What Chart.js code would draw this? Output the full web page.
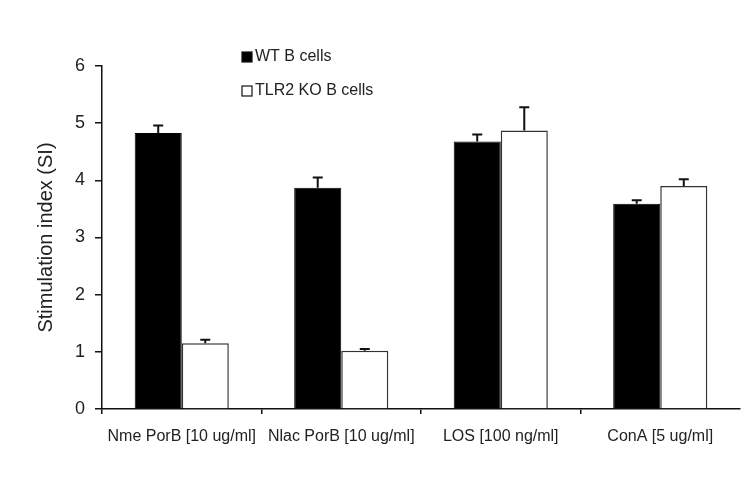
<!DOCTYPE html>
<html>
<head>
<meta charset="utf-8">
<script src="https://cdn.jsdelivr.net/npm/chart.js@4.4.0/dist/chart.umd.min.js"></script>
<style>
  html, body { margin: 0; padding: 0; background: #fff; }
  #wrap { width: 750px; height: 486px; }
</style>
</head>
<body>
<div id="wrap"><canvas id="c" width="750" height="486"></canvas></div>
<script>
const categories = ["Nme PorB [10 ug/ml]", "Nlac PorB [10 ug/ml]", "LOS [100 ng/ml]", "ConA [5 ug/ml]"];
const seriesNames = ["WT B cells", "TLR2 KO B cells"];
const wtValues = [4.83, 3.87, 4.68, 3.59];
const wtErrors = [0.13, 0.18, 0.12, 0.06];
const koValues = [1.15, 1.02, 4.87, 3.90];
const koErrors = [0.06, 0.03, 0.41, 0.12];
const yTicks = [0, 1, 2, 3, 4, 5, 6];

const FONT = "'Liberation Sans', Arial, sans-serif";

const errorBarPlugin = {
  id: 'errorBars',
  afterDatasetsDraw(chart) {
    const ctx = chart.ctx;
    const yScale = chart.scales.y;
    chart.data.datasets.forEach((ds, di) => {
      const meta = chart.getDatasetMeta(di);
      meta.data.forEach((bar, i) => {
        const v = ds.data[i];
        const e = ds.errors[i];
        const yTop = yScale.getPixelForValue(v + e);
        const yBar = yScale.getPixelForValue(v);
        ctx.save();
        ctx.strokeStyle = '#111';
        ctx.lineWidth = 2;
        ctx.beginPath();
        ctx.moveTo(bar.x, yBar);
        ctx.lineTo(bar.x, yTop);
        ctx.moveTo(bar.x - 5, yTop);
        ctx.lineTo(bar.x + 5, yTop);
        ctx.stroke();
        ctx.restore();
      });
    });
  }
};

const legendPlugin = {
  id: 'customLegend',
  afterDraw(chart) {
    const ctx = chart.ctx;
    const area = chart.chartArea;
    const x0 = area.left + 140;
    const rows = [area.top - 9, area.top + 25];
    ctx.save();
    ctx.font = "16px " + FONT;
    ctx.textBaseline = 'middle';
    ctx.textAlign = 'left';
    chart.data.datasets.forEach((ds, i) => {
      const y = rows[i];
      ctx.fillStyle = ds.backgroundColor;
      ctx.fillRect(x0, y - 5, 10, 10);
      ctx.strokeStyle = '#111';
      ctx.lineWidth = 1.2;
      ctx.strokeRect(x0, y - 5, 10, 10);
      ctx.fillStyle = '#222';
      ctx.fillText(ds.label, x0 + 13, y);
    });
    ctx.restore();
  }
};

new Chart(document.getElementById('c'), {
  type: 'bar',
  data: {
    labels: categories,
    datasets: [
      { label: seriesNames[0], data: wtValues, errors: wtErrors,
        backgroundColor: '#000', borderColor: '#000', borderWidth: 1 },
      { label: seriesNames[1], data: koValues, errors: koErrors,
        backgroundColor: '#fff', borderColor: '#333', borderWidth: 1.5 }
    ]
  },
  options: {
    responsive: false,
    animation: false,
    events: [],
    layout: { padding: { top: 66, right: 10, bottom: 0, left: 0 } },
    datasets: { bar: { categoryPercentage: 0.59, barPercentage: 1.0 } },
    plugins: { legend: { display: false }, tooltip: { enabled: false } },
    scales: {
      x: {
        offset: true,
        grid: { offset: true, drawOnChartArea: false, drawTicks: true, tickLength: 5,
                color: c => (c.type === 'tick' ? '#111' : 'rgba(0,0,0,0)'), lineWidth: 1.5 },
        border: { display: true, color: '#111', width: 1.5 },
        ticks: { color: '#222', font: { family: FONT, size: 16 }, padding: 13, maxRotation: 0, autoSkip: false },
        afterFit(s) { s.height = 77; }
      },
      y: {
        min: 0, max: 6,
        afterBuildTicks(s) { s.ticks = yTicks.map(v => ({ value: v })); },
        grid: { drawOnChartArea: false, drawTicks: true, tickLength: 7, color: '#111', lineWidth: 1.5 },
        border: { display: true, color: '#111', width: 1.5 },
        ticks: { color: '#222', font: { family: FONT, size: 18 }, padding: 10 },
        title: { display: true, text: 'Stimulation index (SI)', color: '#222',
                 font: { family: FONT, size: 20 }, padding: { top: 34, bottom: 0 } },
        afterFit(s) { s.width = 102; }
      }
    }
  },
  plugins: [errorBarPlugin, legendPlugin]
});
</script>
</body>
</html>
